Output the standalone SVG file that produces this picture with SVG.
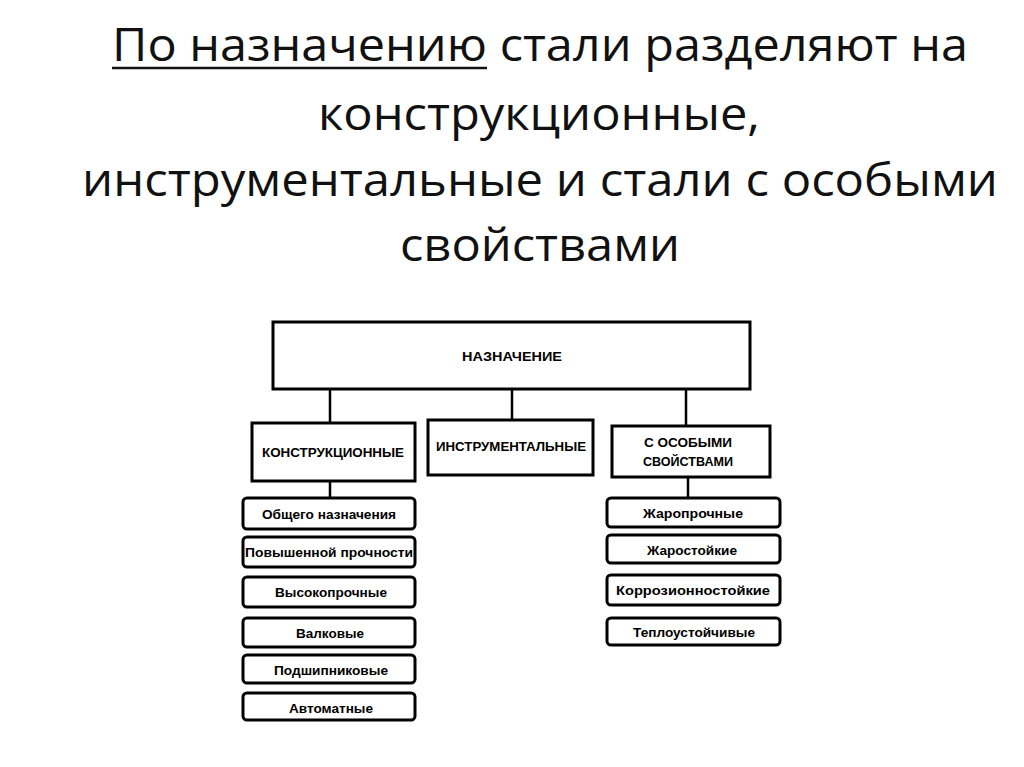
<svg xmlns="http://www.w3.org/2000/svg" width="1024" height="767" viewBox="0 0 1024 767">
<style>
.t{font-family:"Open Sans","Liberation Sans",sans-serif;font-size:46px;fill:#111;text-anchor:middle}
.b{fill:#fff;stroke:#000;stroke-width:3}
.l{font-family:"Liberation Sans",Arial,sans-serif;font-weight:bold;font-size:12px;fill:#000;text-anchor:middle}
.c{stroke:#000;stroke-width:2.5;fill:none}
</style>
<rect width="1024" height="767" fill="#fff"/>
<g id="title">
<text class="t" x="540" y="61" textLength="856" lengthAdjust="spacingAndGlyphs">По назначению стали разделяют на</text>
<line x1="112" y1="68" x2="487" y2="68" stroke="#111" stroke-width="2.5"/>
<text class="t" x="539" y="130" textLength="442" lengthAdjust="spacingAndGlyphs">конструкционные,</text>
<text class="t" x="540" y="196" textLength="916" lengthAdjust="spacingAndGlyphs">инструментальные и стали с особыми</text>
<text class="t" x="540" y="261" textLength="280" lengthAdjust="spacingAndGlyphs">свойствами</text>
</g>
<g id="connectors">
<line class="c" x1="330" y1="389" x2="330" y2="423"/>
<line class="c" x1="512" y1="389" x2="512" y2="420"/>
<line class="c" x1="686" y1="389" x2="686" y2="426"/>
<line class="c" x1="330" y1="481" x2="330" y2="498"/>
<line class="c" x1="688" y1="477" x2="688" y2="498"/>
</g>
<g id="root"><rect class="b" x="273" y="322" width="477" height="67"/><text class="l" x="512" y="361" font-size="11" textLength="100" lengthAdjust="spacingAndGlyphs">НАЗНАЧЕНИЕ</text></g>
<g id="konstr"><rect class="b" x="252" y="423" width="163" height="58"/><text class="l" x="333" y="457" font-size="13" textLength="142" lengthAdjust="spacingAndGlyphs">КОНСТРУКЦИОННЫЕ</text></g>
<g id="instr"><rect class="b" x="428" y="420" width="165" height="55"/><text class="l" x="511" y="451" font-size="13" textLength="150" lengthAdjust="spacingAndGlyphs">ИНСТРУМЕНТАЛЬНЫЕ</text></g>
<g id="osob"><rect class="b" x="612" y="426" width="158" height="51"/><text class="l" x="688" y="447" font-size="13" textLength="88" lengthAdjust="spacingAndGlyphs">С ОСОБЫМИ</text><text class="l" x="688" y="466" font-size="13" textLength="90" lengthAdjust="spacingAndGlyphs">СВОЙСТВАМИ</text></g>
<g id="n1"><rect class="b" x="243" y="498" width="172" height="31" rx="4"/><text class="l" x="329" y="519" textLength="134" lengthAdjust="spacingAndGlyphs">Общего назначения</text></g>
<g id="n2"><rect class="b" x="243" y="537" width="172" height="30" rx="4"/><text class="l" x="329" y="557" textLength="168" lengthAdjust="spacingAndGlyphs">Повышенной прочности</text></g>
<g id="n3"><rect class="b" x="243" y="577" width="172" height="30" rx="4"/><text class="l" x="331" y="597" textLength="112" lengthAdjust="spacingAndGlyphs">Высокопрочные</text></g>
<g id="n4"><rect class="b" x="243" y="618" width="172" height="29" rx="4"/><text class="l" x="330" y="638" textLength="68" lengthAdjust="spacingAndGlyphs">Валковые</text></g>
<g id="n5"><rect class="b" x="243" y="655" width="172" height="28" rx="4"/><text class="l" x="331" y="675" textLength="114" lengthAdjust="spacingAndGlyphs">Подшипниковые</text></g>
<g id="n6"><rect class="b" x="243" y="693" width="172" height="27" rx="4"/><text class="l" x="331" y="713" textLength="84" lengthAdjust="spacingAndGlyphs">Автоматные</text></g>
<g id="r1"><rect class="b" x="607" y="498" width="173" height="29" rx="4"/><text class="l" x="693" y="518" textLength="100" lengthAdjust="spacingAndGlyphs">Жаропрочные</text></g>
<g id="r2"><rect class="b" x="607" y="535" width="173" height="28" rx="4"/><text class="l" x="692" y="555" textLength="90" lengthAdjust="spacingAndGlyphs">Жаростойкие</text></g>
<g id="r3"><rect class="b" x="607" y="575" width="173" height="30" rx="4"/><text class="l" x="693" y="595" textLength="154" lengthAdjust="spacingAndGlyphs">Коррозионностойкие</text></g>
<g id="r4"><rect class="b" x="607" y="618" width="173" height="27" rx="4"/><text class="l" x="694" y="637" textLength="122" lengthAdjust="spacingAndGlyphs">Теплоустойчивые</text></g>
</svg>
